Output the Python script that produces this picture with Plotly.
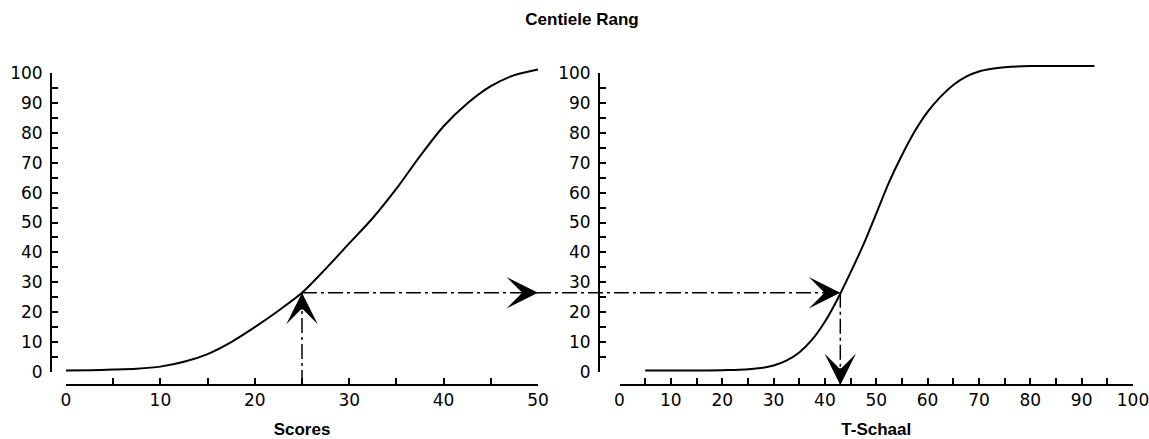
import plotly.graph_objects as go

# ---------------- data ----------------
score_x = [0, 2.5, 5, 7.5, 10, 12.5, 15, 17.5, 20, 22.5, 25, 27.5, 30, 32.5, 35, 37.5, 40, 42.5, 45, 47.5, 50]
score_rank = [0.5, 0.6, 0.8, 1.1, 1.8, 3.4, 6.0, 10.0, 15.0, 20.5, 26.5, 34.5, 43.0, 51.5, 61.3, 72.2, 82.2, 89.8, 95.6, 99.3, 101.2]

t_x = [5, 10, 15, 20, 22.5, 25, 27.5, 30, 32.5, 35, 37.5, 40, 42.5, 45, 47.5, 50, 52.5, 55, 57.5, 60,
       62.5, 65, 67.5, 70, 72.5, 75, 80, 85, 92.5]
t_rank = [0.5, 0.5, 0.5, 0.6, 0.7, 0.9, 1.3, 2.2, 3.8, 6.5, 10.8, 16.8, 24.5, 33.3, 42.6, 53.0, 63.5, 72.5, 80.5, 87.0,
          92.0, 96.0, 98.8, 100.5, 101.4, 101.9, 102.3, 102.3, 102.3]

example_score = 25
example_rank = 26.5
example_t = 43

score_ticks = list(range(0, 51, 10))
t_ticks = list(range(0, 101, 10))
rank_ticks = list(range(0, 101, 10))

# ---------------- layout geometry ----------------
W, H = 1149, 439


def px(p):
    return p / W


def py(p):
    return 1 - p / H


x1_dom = [px(66), px(538)]
x2_dom = [px(619.5), px(1133)]
y_dom = [py(372), py(73)]
x1_rng = [0, 50]
x2_rng = [0, 100]
y_rng = [0, 100]
xaxis_pos = py(385)
y1_pos = px(51)
y2_pos = px(599)

# hidden extended axes for the curves (same scale, no clipping above 100)
ext_top = 110
ext_dom = [y_dom[0], y_dom[0] + (y_dom[1] - y_dom[0]) * ext_top / (y_rng[1] - y_rng[0])]


def to_paper(v, dom, rng):
    return dom[0] + (v - rng[0]) / (rng[1] - rng[0]) * (dom[1] - dom[0])


BLACK = 'black'
tickfont = dict(family='DejaVu Sans', size=17, color=BLACK)
titlefont = dict(family='Liberation Sans', size=17, color=BLACK, weight='bold')


def axis(**kw):
    d = dict(showline=True, linecolor=BLACK, linewidth=2, ticks='inside', ticklen=6, tickwidth=2,
             tickcolor=BLACK, showgrid=False, zeroline=False, tickfont=tickfont, automargin=False,
             ticklabeloverflow='allow',
             minor=dict(ticks='inside', dtick=5, ticklen=6, tickwidth=2, tickcolor=BLACK),
             dtick=10, tick0=0, autorange=False, fixedrange=True)
    d.update(kw)
    return d


fig = go.Figure()
fig.add_trace(go.Scatter(x=score_x, y=score_rank, xaxis='x', yaxis='y3', mode='lines',
                         line=dict(color=BLACK, width=2, shape='spline', smoothing=0.8), showlegend=False))
fig.add_trace(go.Scatter(x=t_x, y=t_rank, xaxis='x2', yaxis='y4', mode='lines',
                         line=dict(color=BLACK, width=2, shape='spline', smoothing=0.8), showlegend=False))
fig.add_trace(go.Scatter(x=[], y=[], xaxis='x', yaxis='y', showlegend=False))
fig.add_trace(go.Scatter(x=[], y=[], xaxis='x2', yaxis='y2', showlegend=False))

dash = '15px,4px,3px,4px'
ry = to_paper(example_rank, y_dom, y_rng)
sx = to_paper(example_score, x1_dom, x1_rng)
tx = to_paper(example_t, x2_dom, x2_rng)
line = dict(color=BLACK, width=1.5, dash=dash)
shapes = [
    dict(type='line', xref='paper', yref='paper', x0=sx, y0=xaxis_pos, x1=sx, y1=ry, line=line),
    dict(type='line', xref='paper', yref='paper', x0=sx, y0=ry, x1=tx, y1=ry, line=line),
    dict(type='line', xref='paper', yref='paper', x0=tx, y0=ry, x1=tx, y1=xaxis_pos, line=line),
]

arrow = dict(text='', showarrow=True, arrowhead=3, arrowsize=3.5, arrowwidth=1.5, arrowcolor=BLACK)
annotations = [
    dict(x=example_score, y=example_rank, xref='x', yref='y', ax=0, ay=15, **arrow),
    dict(x=x1_rng[1], y=example_rank, xref='x', yref='y', ax=-15, ay=0, **arrow),
    dict(x=example_t, y=example_rank, xref='x2', yref='y2', ax=-15, ay=0, **arrow),
    dict(x=example_t, y=xaxis_pos, xref='x2', yref='paper', ax=0, ay=-15, **arrow),
]

fig.update_layout(
    template='none',
    width=W, height=H, margin=dict(l=0, r=0, t=0, b=0, pad=0, autoexpand=False), autosize=False,
    paper_bgcolor='white', plot_bgcolor='white',
    title=dict(text='Centiele Rang', x=px(582), y=py(19), xref='paper', yref='paper',
               xanchor='center', yanchor='middle', font=titlefont),
    xaxis=axis(domain=x1_dom, range=x1_rng, anchor='free', position=xaxis_pos, tickvals=score_ticks,
               title=dict(text='Scores', font=titlefont, standoff=22)),
    xaxis2=axis(domain=x2_dom, range=x2_rng, anchor='free', position=xaxis_pos, tickvals=t_ticks,
                title=dict(text='T-Schaal', font=titlefont, standoff=22)),
    yaxis=axis(domain=y_dom, range=y_rng, anchor='free', position=y1_pos, tickvals=rank_ticks,
               ticklabelstandoff=4),
    yaxis2=axis(domain=y_dom, range=y_rng, anchor='free', position=y2_pos, tickvals=rank_ticks,
                ticklabelstandoff=4),
    yaxis3=dict(domain=ext_dom, range=[0, ext_top], visible=False, anchor='x', fixedrange=True),
    yaxis4=dict(domain=ext_dom, range=[0, ext_top], visible=False, anchor='x2', fixedrange=True),
    shapes=shapes, annotations=annotations, showlegend=False,
)

fig.write_html('out.html', config={'displayModeBar': False},
               post_script="document.body.style.margin='0';document.body.style.overflow='hidden';")
